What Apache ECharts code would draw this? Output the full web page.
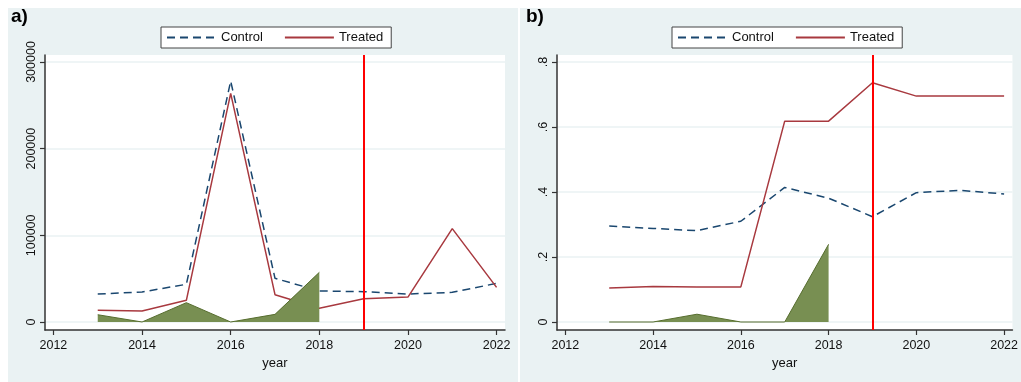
<!DOCTYPE html>
<html><head><meta charset="utf-8">
<script src="https://cdn.jsdelivr.net/npm/echarts@6/dist/echarts.min.js"></script>
<style>html,body{margin:0;padding:0;background:#fff}#c{width:1021px;height:382px}</style>
</head><body><div id="c"></div>
<script>
const years = [2013, 2014, 2015, 2016, 2017, 2018, 2019, 2020, 2021, 2022];
const diffYears = [2013, 2014, 2015, 2016, 2017, 2018];
const ctrlA = [32300, 34600, 43500, 278000, 50400, 35800, 35000, 32300, 34200, 44600];
const treatA = [13500, 12700, 25000, 263800, 31500, 15800, 26900, 28800, 107700, 40000];
const diffA = [8400, 0, 22300, 0, 8800, 57300];
const ctrlB = [0.295, 0.288, 0.281, 0.310, 0.414, 0.381, 0.324, 0.398, 0.405, 0.394];
const treatB = [0.105, 0.109, 0.108, 0.108, 0.618, 0.618, 0.736, 0.695, 0.695, 0.695];
const diffB = [0, 0, 0.024, 0, 0, 0.239];
const xTicks = [2012, 2014, 2016, 2018, 2020, 2022];
const yTicksA = [0, 100000, 200000, 300000];
const yTicksB = [0, 0.2, 0.4, 0.6, 0.8];
const treatYear = 2019;
const panelLabels = ['a)', 'b)'];
const legendNames = ['Control', 'Treated'];

const FONT = 'Liberation Sans, Arial, sans-serif';
const C_CTRL = '#1a476f', C_TREAT = '#a8393f', C_FILL = '#788f52', C_FILL_LINE = '#566d2e';
const zip = (xs, ys) => xs.map((x, i) => [x, ys[i]]);

const chart = echarts.init(document.getElementById('c'), null, {renderer: 'canvas'});

function xAxisCfg(gi) {
  return {
    gridIndex: gi, type: 'value', min: 2011.81, max: 2022.19,
    name: 'year', nameLocation: 'middle', nameGap: 21,
    nameTextStyle: {fontFamily: FONT, fontSize: 13, color: '#111'},
    axisLine: {show: true, onZero: false, lineStyle: {color: '#333', width: 1.5}},
    axisTick: {show: true, length: 5, customValues: xTicks, lineStyle: {color: '#333', width: 1.2}},
    axisLabel: {customValues: xTicks, margin: 9, fontFamily: FONT, fontSize: 12.5, color: '#111',
      formatter: v => String(v), showMinLabel: true, showMaxLabel: true},
    splitLine: {show: false}
  };
}
function yAxisCfg(gi, min, max, ticks, fmt) {
  return {
    gridIndex: gi, type: 'value', min: min, max: max,
    axisLine: {show: true, onZero: false, lineStyle: {color: '#333', width: 1.5}},
    axisTick: {show: true, length: 5, customValues: ticks, lineStyle: {color: '#333', width: 1.2}},
    axisLabel: {customValues: ticks, rotate: 90, margin: 7, fontFamily: FONT, fontSize: 12.5, color: '#111', formatter: fmt},
    splitLine: {show: true, lineStyle: {color: '#eaf2f3', width: 1.5}}
  };
}
function seriesFor(gi, ctrl, treat, diff) {
  return [
    {type: 'line', name: 'Control', xAxisIndex: gi, yAxisIndex: gi, data: zip(years, ctrl),
     showSymbol: false, symbol: 'none', lineStyle: {color: C_CTRL, width: 1.5, type: [8, 5]}, itemStyle: {color: C_CTRL}, z: 2},
    {type: 'line', name: 'Treated', xAxisIndex: gi, yAxisIndex: gi, data: zip(years, treat),
     showSymbol: false, symbol: 'none', lineStyle: {color: C_TREAT, width: 1.5}, itemStyle: {color: C_TREAT}, z: 2},
    {type: 'line', name: 'diff', xAxisIndex: gi, yAxisIndex: gi, data: zip(diffYears, diff),
     showSymbol: false, symbol: 'none', lineStyle: {color: C_FILL_LINE, width: 1}, areaStyle: {color: C_FILL, opacity: 1}, z: 3,
     markLine: {silent: true, symbol: 'none', label: {show: false}, lineStyle: {color: '#ff0000', width: 2, type: 'solid'},
       data: [{xAxis: treatYear}], z: 5}}
  ];
}
function legendCfg(left) {
  return {
    data: legendNames, left: left, top: 27, orient: 'horizontal',
    backgroundColor: '#fff', borderColor: '#444', borderWidth: 1, borderRadius: 0,
    padding: [4, 8, 4, 5], itemWidth: 49, itemHeight: 10, itemGap: 21,
    itemStyle: {opacity: 0},
    textStyle: {fontFamily: FONT, fontSize: 13, color: '#111'}
  };
}

const option = {
  animation: false,
  backgroundColor: '#fff',
  graphic: [
    {type: 'rect', shape: {x: 8, y: 8, width: 510, height: 374}, style: {fill: '#eaf2f3'}, z: -10, silent: true},
    {type: 'rect', shape: {x: 520, y: 8, width: 501, height: 374}, style: {fill: '#eaf2f3'}, z: -10, silent: true},
    {type: 'text', left: 11, top: 7, style: {text: panelLabels[0], font: 'bold 19px ' + FONT, fill: '#000'}},
    {type: 'text', left: 526, top: 7, style: {text: panelLabels[1], font: 'bold 19px ' + FONT, fill: '#000'}}
  ],
  legend: [legendCfg(161), legendCfg(672)],
  grid: [
    {left: 45, top: 55, width: 460, height: 275, show: true, backgroundColor: '#fff', borderWidth: 0, containLabel: false},
    {left: 557, top: 55, width: 460, height: 275, show: true, backgroundColor: '#fff', borderWidth: 0, containLabel: false}
  ],
  xAxis: [xAxisCfg(0), xAxisCfg(1)],
  yAxis: [
    yAxisCfg(0, -9231, 308077, yTicksA, v => String(v)),
    yAxisCfg(1, -0.0246, 0.8215, yTicksB, v => v === 0 ? '0' : String(+v.toFixed(1)).replace(/^0/, ''))
  ],
  series: [].concat(seriesFor(0, ctrlA, treatA, diffA), seriesFor(1, ctrlB, treatB, diffB))
};
chart.setOption(option);
</script></body></html>
